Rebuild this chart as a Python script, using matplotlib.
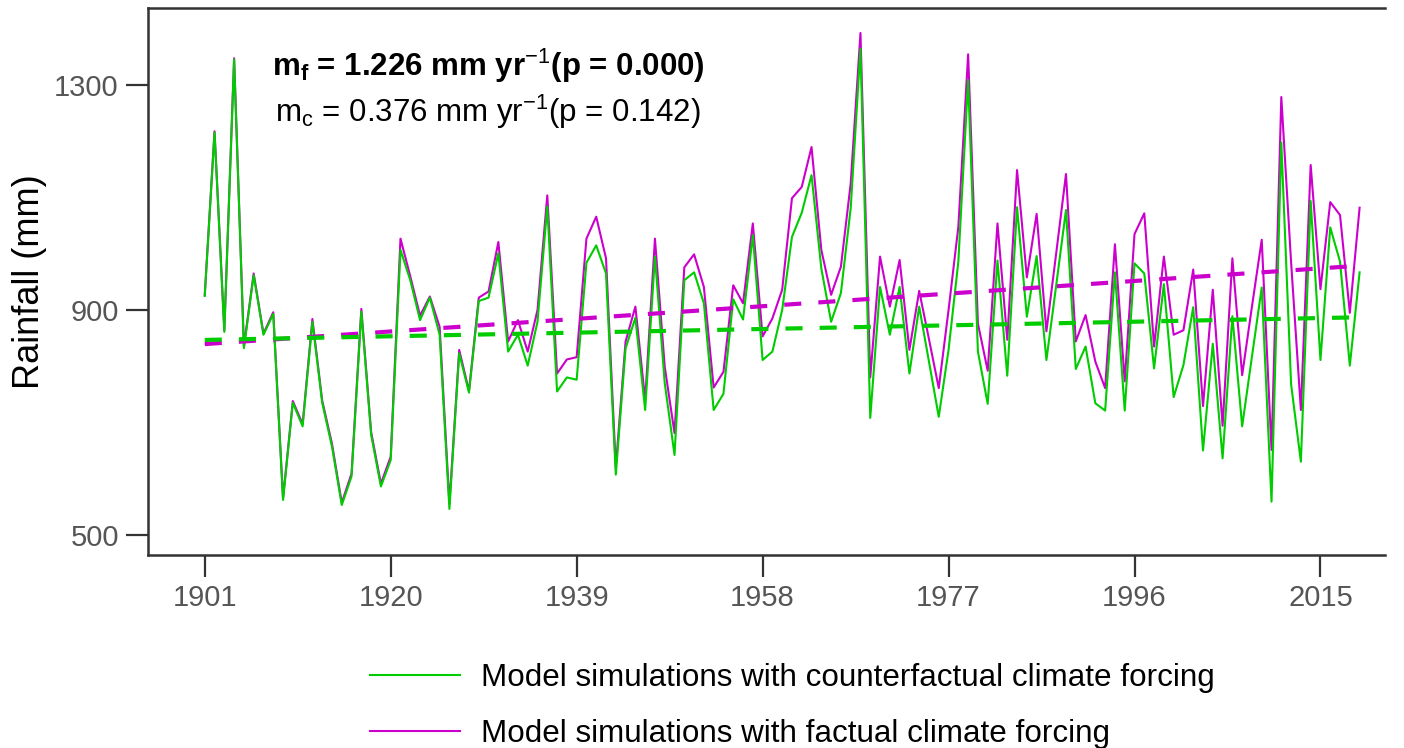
"""
Simulated annual rainfall under factual vs counterfactual climate forcing,
with linear trends for both runs.
"""

import matplotlib
matplotlib.use("Agg")
import matplotlib.pyplot as plt
import numpy as np

plt.rcParams["font.family"] = ["Liberation Sans", "DejaVu Sans"]
plt.rcParams["mathtext.fontset"] = "custom"
plt.rcParams["mathtext.rm"] = "Liberation Sans"
plt.rcParams["mathtext.bf"] = "Liberation Sans:bold"

GREEN = "#00CC00"
MAGENTA = "#CC00CC"
SPINE = "#333333"
TICK_TEXT = "#555555"

years = list(range(1901, 2020))

counterfactual = [
    925, 1216, 861, 1346, 832, 962, 856, 893, 562, 735,
    693, 879, 735, 657, 553, 604, 897, 678, 586, 633,
    1007, 953, 882, 922, 856, 546, 823, 753, 916, 922,
    1001, 826, 856, 801, 879, 1084, 755, 780, 776, 984,
    1015, 965, 607, 832, 886, 722, 995, 770, 642, 953,
    967, 912, 722, 751, 919, 883, 1033, 811, 826, 900,
    1030, 1073, 1140, 974, 879, 930, 1081, 1365, 708, 941,
    856, 941, 787, 906, 808, 710, 829, 986, 1309, 826,
    733, 988, 783, 1083, 888, 996, 811, 944, 1078, 795,
    835, 734, 721, 967, 721, 983, 965, 796, 946, 745,
    802, 905, 650, 840, 636, 889, 693, 817, 940, 559,
    1198, 768, 630, 1094, 811, 1047, 986, 801, 967,
]

factual = [
    927, 1218, 864, 1348, 835, 965, 858, 896, 565, 738,
    697, 884, 739, 662, 557, 609, 902, 683, 591, 639,
    1027, 960, 890, 924, 870, 555, 829, 756, 922, 933,
    1021, 844, 882, 826, 900, 1104, 787, 812, 816, 1027,
    1066, 992, 620, 844, 906, 740, 1027, 799, 681, 976,
    999, 941, 762, 790, 944, 912, 1054, 853, 885, 936,
    1099, 1119, 1190, 1007, 927, 977, 1125, 1393, 780, 995,
    906, 989, 829, 934, 848, 761, 900, 1048, 1355, 876,
    792, 1054, 847, 1149, 958, 1071, 862, 1001, 1142, 844,
    891, 808, 761, 1017, 773, 1035, 1072, 835, 995, 856,
    864, 972, 729, 936, 694, 992, 784, 906, 1025, 651,
    1279, 985, 722, 1158, 937, 1092, 1069, 895, 1082,
]

xticks = [1901, 1920, 1939, 1958, 1977, 1996, 2015]
yticks = [500, 900, 1300]

label_c = "Model simulations with counterfactual climate forcing"
label_f = "Model simulations with factual climate forcing"
text_f = r"$\mathbf{m_f}$ = 1.226 mm yr$^{-1}$(p = 0.000)"
text_c = r"m$_\mathrm{c}$ = 0.376 mm yr$^{-1}$(p = 0.142)"


def trend(x, y):
    slope, intercept = np.polyfit(x, y, 1)
    return slope * np.asarray(x) + intercept


fig = plt.figure(figsize=(14.04, 7.48), dpi=100)
ax = fig.add_axes([0.1054, 0.258, 0.8811, 0.731])

ln_c, = ax.plot(years, counterfactual, color=GREEN, lw=1.5, zorder=3)
ln_f, = ax.plot(years, factual, color=MAGENTA, lw=1.5, zorder=2)

tr_f, = ax.plot(years, trend(years, factual), color=MAGENTA, lw=3, zorder=4)
tr_c, = ax.plot(years, trend(years, counterfactual), color=GREEN, lw=3, zorder=4)
for ln in (tr_f, tr_c):
    ln.set_dashes((4.1, 4.1))

ax.set_xlim(1895.2, 2021.6)
ax.set_ylim(464, 1437)
ax.set_xticks(xticks)
ax.set_yticks(yticks)
ax.tick_params(direction="out", length=16, width=1.6, color=SPINE,
               labelsize=21, labelcolor=TICK_TEXT, pad=5)
ax.set_ylabel("Rainfall (mm)", fontsize=26, labelpad=5)

for side in ("left", "bottom", "top"):
    ax.spines[side].set_color(SPINE)
    ax.spines[side].set_linewidth(1.8)
ax.spines["right"].set_visible(False)

ax.text(0.275, 0.894, text_f, transform=ax.transAxes, ha="center", va="center",
        fontsize=22.5, fontweight="bold")
ax.text(0.275, 0.810, text_c, transform=ax.transAxes, ha="center", va="center",
        fontsize=22.5)

fig.legend([ln_c, ln_f], [label_c, label_f], loc="upper left",
           bbox_to_anchor=(0.2635, 0.114), frameon=False,
           handlelength=2.87, handletextpad=0.67, labelspacing=0.84,
           borderaxespad=0, borderpad=0, prop={"size": 22.6})

fig.savefig("out.png", dpi=100)
